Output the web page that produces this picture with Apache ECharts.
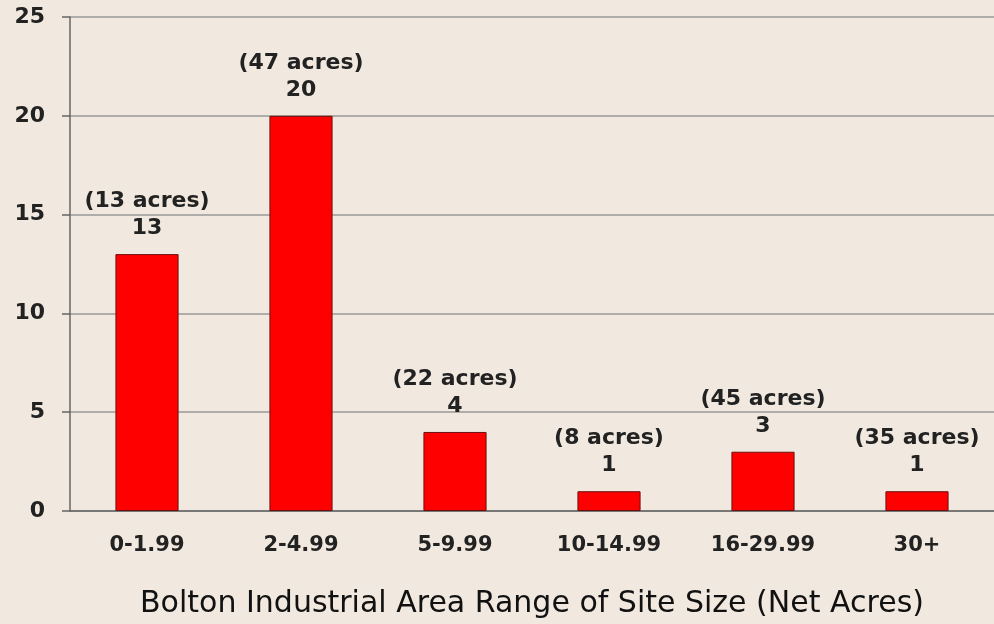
<!DOCTYPE html>
<html>
<head>
<meta charset="utf-8">
<script src="https://cdn.jsdelivr.net/npm/echarts@6/dist/echarts.min.js"></script>
<style>
html,body{margin:0;padding:0;background:#f1e9df;}
#chart{width:994px;height:624px;}
</style>
</head>
<body>
<div id="chart"></div>
<script>
var categories = ['0-1.99', '2-4.99', '5-9.99', '10-14.99', '16-29.99', '30+'];
var siteCounts = [13, 20, 4, 1, 3, 1];
var netAcres = [13, 47, 22, 8, 45, 35];
var yTicks = [0, 5, 10, 15, 20, 25];

var wideFont = '"DejaVu Sans", Verdana, sans-serif';

var myChart = echarts.init(document.getElementById('chart'));
option = {
    backgroundColor: '#f1e9df',
    animation: false,
    grid: {
        left: 70,
        right: -6,
        top: 17,
        bottom: 110
    },
    xAxis: {
        type: 'category',
        data: categories,
        name: 'Bolton Industrial Area Range of Site Size (Net Acres)',
        nameLocation: 'middle',
        nameGap: 78,
        nameTextStyle: {
            fontFamily: wideFont,
            fontSize: 30,
            color: '#111'
        },
        axisLine: { lineStyle: { color: '#666', width: 1.5 } },
        axisTick: { length: 7, lineStyle: { color: '#666', width: 1.5 } },
        axisLabel: {
            fontFamily: wideFont,
            fontSize: 21,
            fontWeight: 'bold',
            color: '#222',
            margin: 24
        }
    },
    yAxis: {
        type: 'value',
        min: yTicks[0],
        max: yTicks[yTicks.length - 1],
        interval: 5,
        axisLine: { show: true, lineStyle: { color: '#666', width: 1.5 } },
        axisTick: { show: true, length: 8, lineStyle: { color: '#666', width: 1.5 } },
        splitLine: { lineStyle: { color: '#999', width: 1.5 } },
        axisLabel: {
            fontFamily: wideFont,
            fontSize: 22,
            fontWeight: 'bold',
            color: '#222',
            margin: 25
        }
    },
    series: [{
        type: 'bar',
        data: siteCounts,
        barWidth: '41%',
        itemStyle: {
            color: '#ff0000',
            borderColor: '#6b1010',
            borderWidth: 1
        },
        label: {
            show: true,
            position: 'top',
            distance: 12,
            fontFamily: wideFont,
            fontSize: 22,
            fontWeight: 'bold',
            color: '#222',
            lineHeight: 27,
            formatter: function (p) {
                return '(' + netAcres[p.dataIndex] + ' acres)\n' + p.value;
            }
        }
    }]
};
myChart.setOption(option, true);
</script>
</body>
</html>
